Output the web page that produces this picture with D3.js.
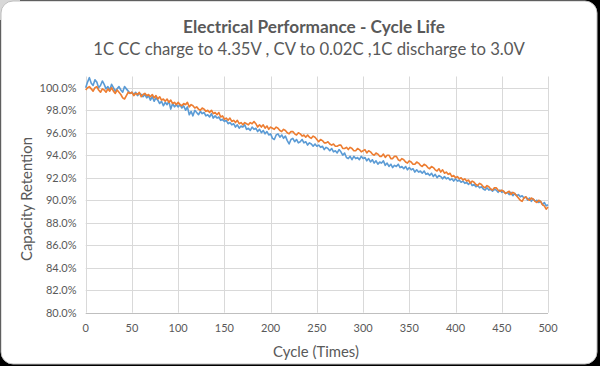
<!DOCTYPE html>
<html><head><meta charset="utf-8">
<script src="https://cdn.jsdelivr.net/npm/d3@7"></script>
<style>html,body{margin:0;padding:0;background:#000;}svg{display:block;}</style>
</head><body>
<svg id="c" width="600" height="366"></svg>
<script>
const titleText = "Electrical Performance - Cycle Life";
const subtitleText = "1C CC charge to 4.35V , CV to 0.02C ,1C discharge to 3.0V";
const xTitle = "Cycle (Times)";
const yTitle = "Capacity Retention";
const xTicks = [0, 50, 100, 150, 200, 250, 300, 350, 400, 450, 500];
const yTicks = [80, 82, 84, 86, 88, 90, 92, 94, 96, 98, 100];
const cycleStep = 2;
const seriesBlue = [
100.0,100.5,100.9,100.4,100.2,100.7,100.5,100.0,100.2,100.6,
100.3,99.9,100.1,99.8,100.3,100.0,99.7,99.9,100.1,99.8,
99.6,100.1,99.9,99.7,99.5,99.6,99.4,99.6,99.3,99.5,
99.4,99.2,99.4,99.1,99.3,98.9,99.2,98.8,99.1,98.9,
98.6,98.8,98.4,98.7,98.5,98.8,98.1,98.6,98.3,98.5,
98.3,98.5,98.2,98.4,98.0,98.3,97.6,97.9,97.5,98.0,
97.8,97.6,97.9,97.7,97.8,97.5,97.6,97.4,97.7,97.3,
97.5,97.3,97.4,97.1,97.2,97.0,97.1,96.8,96.9,96.7,
96.8,96.5,96.7,96.4,96.6,96.5,96.7,96.3,96.4,96.2,
96.5,96.3,96.4,96.1,96.3,96.0,96.2,95.9,96.1,95.8,
95.9,95.5,95.4,95.8,95.9,95.6,95.8,95.5,95.7,95.3,
95.0,95.4,95.5,95.2,95.4,95.1,95.2,95.4,95.1,95.2,
94.9,95.1,95.0,94.8,95.0,94.8,94.9,94.7,94.8,94.5,
94.7,94.6,94.4,94.6,94.3,94.4,94.2,94.5,94.3,94.0,
94.2,93.8,93.7,93.9,93.6,93.9,93.7,93.8,93.6,93.9,
93.7,93.8,93.5,93.7,93.4,93.6,93.3,93.5,93.2,93.4,
93.3,93.5,93.1,93.3,93.0,93.2,92.9,93.1,93.0,93.2,
92.9,93.0,92.8,93.0,92.7,92.9,92.7,92.8,92.5,92.7,
92.5,92.6,92.4,92.6,92.3,92.4,92.2,92.4,92.1,92.3,
92.0,92.2,92.1,91.9,92.1,91.9,92.0,91.8,91.9,91.7,
91.9,91.7,91.8,91.6,91.7,91.5,91.6,91.4,91.6,91.3,
91.4,91.2,91.3,91.1,91.2,91.0,90.9,91.1,90.9,91.0,
90.8,91.0,90.9,90.7,90.9,90.7,90.8,90.6,90.7,90.5,
90.7,90.4,90.6,90.4,90.5,90.3,90.4,90.2,90.3,90.0,
90.2,89.9,90.1,89.9,90.0,89.8,89.9,89.6,89.8,89.5,
89.6];
const seriesOrange = [
99.8,100.0,100.1,99.9,99.7,100.0,100.1,99.8,99.6,99.9,
99.8,99.6,99.9,99.7,100.0,99.7,99.5,99.8,99.6,99.4,
99.1,99.0,99.3,99.6,99.5,99.6,99.3,99.5,99.4,99.6,
99.2,99.4,99.5,99.3,99.4,99.2,99.4,99.1,99.3,99.0,
99.2,98.9,99.0,98.8,99.0,98.7,98.9,98.6,98.7,98.5,
98.7,98.5,98.4,98.6,98.5,98.7,98.3,98.5,98.4,98.2,
98.3,98.1,98.0,98.2,98.1,97.9,98.0,97.8,98.0,97.7,
97.8,97.6,97.8,97.4,97.5,97.2,97.3,97.1,97.3,97.0,
97.1,96.9,97.1,96.8,96.9,96.7,96.9,96.8,96.7,96.9,
96.8,97.0,96.8,96.5,96.7,96.5,96.7,96.4,96.6,96.3,
96.5,96.4,96.3,96.5,96.4,96.2,96.1,96.3,96.2,96.0,
95.9,96.1,96.1,95.9,95.8,96.0,95.9,95.7,95.8,95.6,
95.8,95.6,95.5,95.7,95.6,95.4,95.2,95.4,95.3,95.1,
95.1,95.2,95.0,94.9,95.0,94.8,94.8,94.9,94.9,94.6,
94.6,94.7,94.5,94.7,94.6,94.4,94.4,94.6,94.5,94.3,
94.4,94.5,94.2,94.4,94.3,94.1,94.0,94.2,94.1,93.9,
93.9,94.1,93.8,94.0,94.0,93.7,93.7,93.9,93.9,93.6,
93.5,93.7,93.6,93.4,93.3,93.5,93.4,93.2,93.2,93.4,
93.3,93.1,93.0,93.2,93.1,92.9,92.8,93.0,92.9,92.7,
92.6,92.8,92.5,92.7,92.4,92.5,92.3,92.4,92.1,92.2,
92.0,92.1,91.9,92.0,91.8,91.9,91.7,91.8,91.5,91.7,
91.6,91.4,91.3,91.5,91.4,91.2,91.1,91.3,91.2,91.0,
90.9,91.1,91.1,90.9,90.8,90.9,90.8,90.6,90.7,90.8,
90.5,90.7,90.6,90.4,90.2,90.0,89.9,90.2,90.3,90.1,
90.0,90.2,90.1,89.9,89.8,90.0,89.9,89.6,89.5,89.2,
89.4];

const svg = d3.select("#c");
svg.append("rect").attr("x",0).attr("y",0).attr("width",20).attr("height",20).attr("fill","#d8d8d8");
svg.append("rect").attr("x",1).attr("y",1).attr("width",596).attr("height",363)
  .attr("rx",12).attr("ry",12).attr("fill","#fff").attr("stroke","#bfbfbf").attr("stroke-width",1);

const x = d3.scaleLinear().domain([0,500]).range([85.7,548]);
const y = d3.scaleLinear().domain([80,101]).range([312.7,76.5]);
const font = "Lato, 'Open Sans', sans-serif";
const txt = "#595959";

svg.append("g").selectAll("line").data(yTicks).join("line")
  .attr("x1",x(0)).attr("x2",x(500)).attr("y1",d=>Math.round(y(d))+0.5).attr("y2",d=>Math.round(y(d))+0.5)
  .attr("stroke",d=>d===80?"#bfbfbf":"#d9d9d9").attr("stroke-width",1);
svg.append("g").selectAll("line").data(xTicks).join("line")
  .attr("x1",d=>Math.round(x(d))+0.5).attr("x2",d=>Math.round(x(d))+0.5).attr("y1",y(101)).attr("y2",y(80))
  .attr("stroke","#d9d9d9").attr("stroke-width",1);

svg.append("g").selectAll("text").data(yTicks).join("text")
  .attr("x",76.5).attr("y",d=>y(d)).attr("dy","0.35em").attr("text-anchor","end")
  .attr("font-family",font).attr("font-size",11).attr("fill",txt).text(d=>d.toFixed(1)+"%");
svg.append("g").selectAll("text").data(xTicks).join("text")
  .attr("x",d=>x(d)).attr("y",328).attr("dy","0.35em").attr("text-anchor","middle")
  .attr("font-family",font).attr("font-size",11).attr("fill",txt).text(d=>d);

const line = d3.line().x((d,i)=>x(i*cycleStep)).y(d=>y(d));
svg.append("path").datum(seriesBlue).attr("d",line).attr("fill","none")
  .attr("stroke","#5B9BD5").attr("stroke-width",1.6).attr("stroke-linejoin","round");
svg.append("path").datum(seriesOrange).attr("d",line).attr("fill","none")
  .attr("stroke","#ED7D31").attr("stroke-width",1.6).attr("stroke-linejoin","round");

function fit(sel, w){ const n=sel.node(); const l=n.getComputedTextLength(); const fs=parseFloat(sel.attr("font-size")); sel.attr("font-size", fs*w/l); }
const t1 = svg.append("text").attr("x",314).attr("y",33).attr("text-anchor","middle")
  .attr("font-family",font).attr("font-weight","bold").attr("font-size",15).attr("fill",txt).text(titleText);
fit(t1, 262);
const t2 = svg.append("text").attr("x",309).attr("y",55).attr("text-anchor","middle")
  .attr("font-family",font).attr("font-size",16).attr("fill",txt).text(subtitleText);
fit(t2, 432);
const t3 = svg.append("text").attr("x",316).attr("y",357).attr("text-anchor","middle")
  .attr("font-family",font).attr("font-size",13).attr("fill",txt).text(xTitle);
fit(t3, 86);
const t4 = svg.append("text").attr("transform","translate(32,199) rotate(-90)").attr("text-anchor","middle")
  .attr("font-family",font).attr("font-size",13).attr("fill",txt).text(yTitle);
fit(t4, 124);
</script>
</body></html>
